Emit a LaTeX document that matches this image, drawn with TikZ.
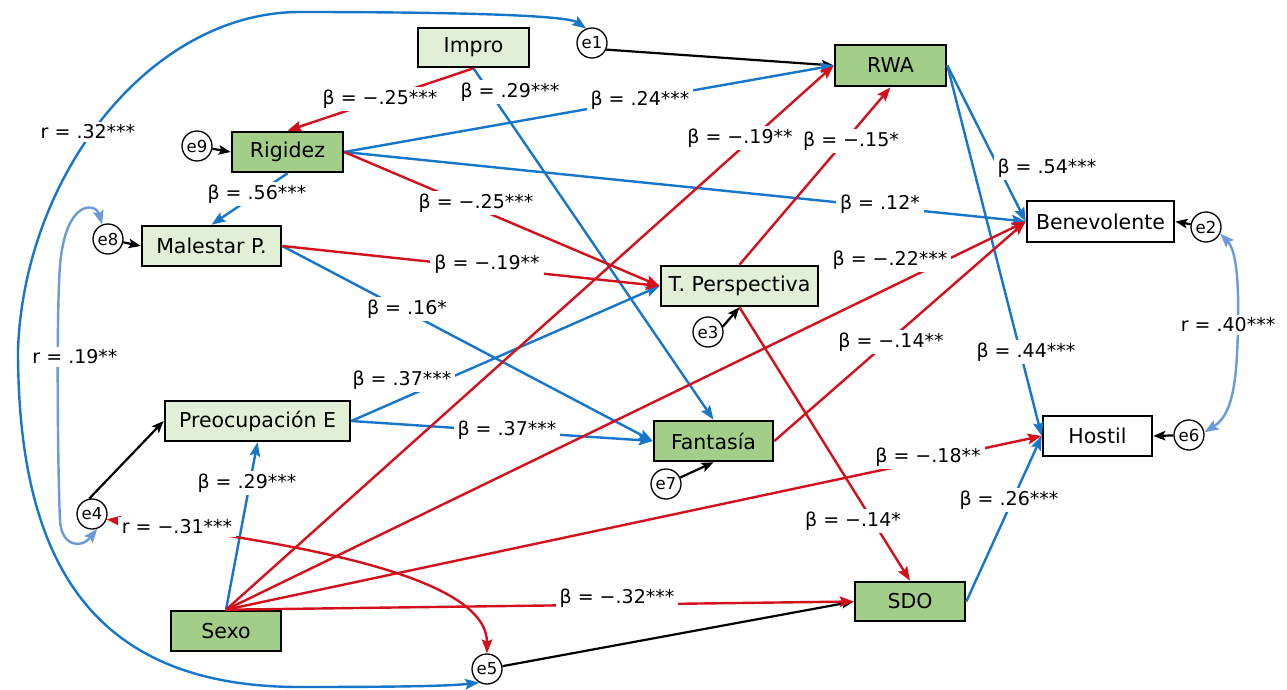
\documentclass[tikz,border=0pt]{standalone}
\usepackage{fontspec}
\setmainfont{DejaVu Sans}
\usetikzlibrary{arrows.meta}
\definecolor{pathblue}{RGB}{22,118,204}
\definecolor{pathred}{RGB}{212,16,28}
\definecolor{corrblue}{RGB}{105,155,215}
\definecolor{boxdark}{RGB}{163,206,135}
\definecolor{boxlight}{RGB}{224,239,214}
\begin{document}
\begin{tikzpicture}[x=1pt,y=-1pt,
  >={Stealth[length=14pt,width=10.5pt,inset=2.5pt]},
  var/.style={draw=black, line width=2.6pt, minimum height=40pt, inner sep=0pt,
    font=\fontsize{20.5}{24}\selectfont},
  vardark/.style={var, fill=boxdark},
  varlight/.style={var, fill=boxlight},
  varwhite/.style={var, fill=white},
  err/.style={circle, draw=black, line width=1.3pt, fill=white, minimum size=30pt,
    inner sep=0pt, font=\fontsize{16.5}{18}\selectfont},
  bpath/.style={draw=pathblue, line width=2.4pt, ->},
  rpath/.style={draw=pathred, line width=2.4pt, ->},
  kpath/.style={draw=black, line width=2.2pt, -{Stealth[length=12pt,width=9.5pt,inset=2.5pt]}},
  rcorr/.style={draw=pathred, line width=2.4pt, <->},
  bcorr/.style={draw=pathblue, line width=2.4pt, <->},
  lcorr/.style={draw=corrblue, line width=2.4pt, <->},
  lab/.style={fill=white, inner xsep=4pt, inner ysep=3pt, font=\fontsize{19}{22}\selectfont}
]
\useasboundingbox[fill=white] (0,0) rectangle (1287,690);

% observed variables
\node[varlight, minimum width=111pt, minimum height=39pt] (impro) at (473.5,47.5) {Impro};
\node[vardark,  minimum width=111pt, minimum height=41pt] (rwa)   at (890.5,65.5) {RWA};
\node[vardark,  minimum width=111pt] (rig)   at (287.5,152) {Rigidez};
\node[varlight, minimum width=139pt] (mal)   at (211.5,246) {Malestar P.};
\node[varlight, minimum width=185pt] (pre)   at (257.5,421) {Preocupación E};
\node[vardark,  minimum width=110pt] (sexo)  at (226,631) {Sexo};
\node[varlight, minimum width=157pt] (tp)    at (739.5,286) {T. Perspectiva};
\node[vardark,  minimum width=119pt] (fan)   at (713.5,441) {Fantasía};
\node[vardark,  minimum width=110pt, minimum height=39pt] (sdo) at (910,601.5) {SDO};
\node[varwhite, minimum width=147pt, minimum height=41pt] (ben) at (1100.5,221.5) {Benevolente};
\node[varwhite, minimum width=109pt] (hos)   at (1097.5,436) {Hostil};

% error terms
\node[err] (e1) at (592,43) {e1};
\node[err] (e9) at (197,146) {e9};
\node[err] (e8) at (108,239) {e8};
\node[err] (e4) at (92,514) {e4};
\node[err] (e3) at (708,332) {e3};
\node[err] (e7) at (666,484) {e7};
\node[err] (e5) at (487,669) {e5};
\node[err] (e2) at (1206,227) {e2};
\node[err] (e6) at (1189,435) {e6};

% residual paths
\draw[kpath] (e1.-25) -- (rwa.west);
\draw[kpath] (e9) -- (rig.west);
\draw[kpath] (e8) -- (mal.west);
\draw[kpath] (e4.100) -- (pre.west);
\draw[kpath] (e3.20) -- (tp.south);
\draw[kpath] (e7) -- (fan.south);
\draw[kpath] (e5) -- (sdo.west);
\draw[kpath] (e2) -- (ben.east);
\draw[kpath] (e6) -- (hos.east);

% positive paths
\draw[bpath] (rig.south) -- (mal.north);
\draw[bpath] (rig.east) -- (rwa.west);
\draw[bpath] (rig.east) -- (ben.west);
\draw[bpath] (impro.south) -- (fan.north);
\draw[bpath] (mal.east) -- (fan.west);
\draw[bpath] (pre.east) -- (tp.west);
\draw[bpath] (pre.east) -- (fan.west);
\draw[bpath] (sexo.north) -- (pre.south);
\draw[bpath] (rwa.east) -- (ben.west);
\draw[bpath] (rwa.east) -- (hos.west);
\draw[bpath] (sdo.east) -- (hos.west);

% negative paths
\draw[rpath] (impro.south) -- (rig.north);
\draw[rpath] (rig.east) -- (tp.west);
\draw[rpath] (mal.east) -- (tp.west);
\draw[rpath] (sexo.north) -- (rwa.west);
\draw[rpath] (tp.north) -- (rwa.south);
\draw[rpath] (sexo.north) -- (ben.west);
\draw[rpath] (fan.east) -- (ben.west);
\draw[rpath] (sexo.north) -- (hos.west);
\draw[rpath] (sexo.north) -- (sdo.west);
\draw[rpath] (tp.south) -- (sdo.north);

% correlations
\draw[bcorr] (e1.112) .. controls (565,14) and (420,12) .. (300,12)
  .. controls (150,12) and (24,175) .. (18,350)
  .. controls (18,560) and (90,687) .. (300,687)
  .. controls (400,687) and (450,686) .. (e5.240);
\draw[rcorr] (e4.-20) .. controls (320,545) and (487,580) .. (e5.north);
\draw[lcorr] (e8.112) .. controls (96,203) and (66,198) .. (60,265)
  .. controls (56,320) and (58,480) .. (60,520)
  .. controls (61,545) and (80,550) .. (e4.290);
\draw[lcorr] (e2.-25) .. controls (1236,250) and (1239,280) .. (1238,325)
  .. controls (1237,385) and (1232,415) .. (e6.10);

% coefficients
\node[lab] (l01) at (88,132)   {r = .32***};
\node[lab] (l02) at (380,99)   {β = −.25***};
\node[lab] (l03) at (510,92)   {β = .29***};
\node[lab] (l04) at (640,100)  {β = .24***};
\node[lab] (l05) at (257,194)  {β = .56***};
\node[lab] (l06) at (476,203)  {β = −.25***};
\node[lab] (l07) at (880,204)  {β = .12*};
\node[lab] (l08) at (740,138)  {β = −.19**};
\node[lab] (l09) at (851,141)  {β = −.15*};
\node[lab] (l10) at (1047,168) {β = .54***};
\node[lab] (l11) at (487,264)  {β = −.19**};
\node[lab] (l12) at (890,260)  {β = −.22***};
\node[lab] (l13) at (407,309)  {β = .16*};
\node[lab] (l14) at (402,380)  {β = .37***};
\node[lab] (l15) at (891,342)  {β = −.14**};
\node[lab] (l16) at (1026,352) {β = .44***};
\node[lab] (l17) at (1228,325) {r = .40***};
\node[lab] (l18) at (75,357)   {r = .19**};
\node[lab] (l19) at (507,430)  {β = .37***};
\node[lab] (l20) at (928,457)  {β = −.18**};
\node[lab] (l21) at (247,483)  {β = .29***};
\node[lab] (l22) at (177,527)  {r = −.31***};
\node[lab] (l23) at (853,521)  {β = −.14*};
\node[lab] (l24) at (1009,500) {β = .26***};
\node[lab] (l25) at (617,598)  {β = −.32***};
\end{tikzpicture}
\end{document}
